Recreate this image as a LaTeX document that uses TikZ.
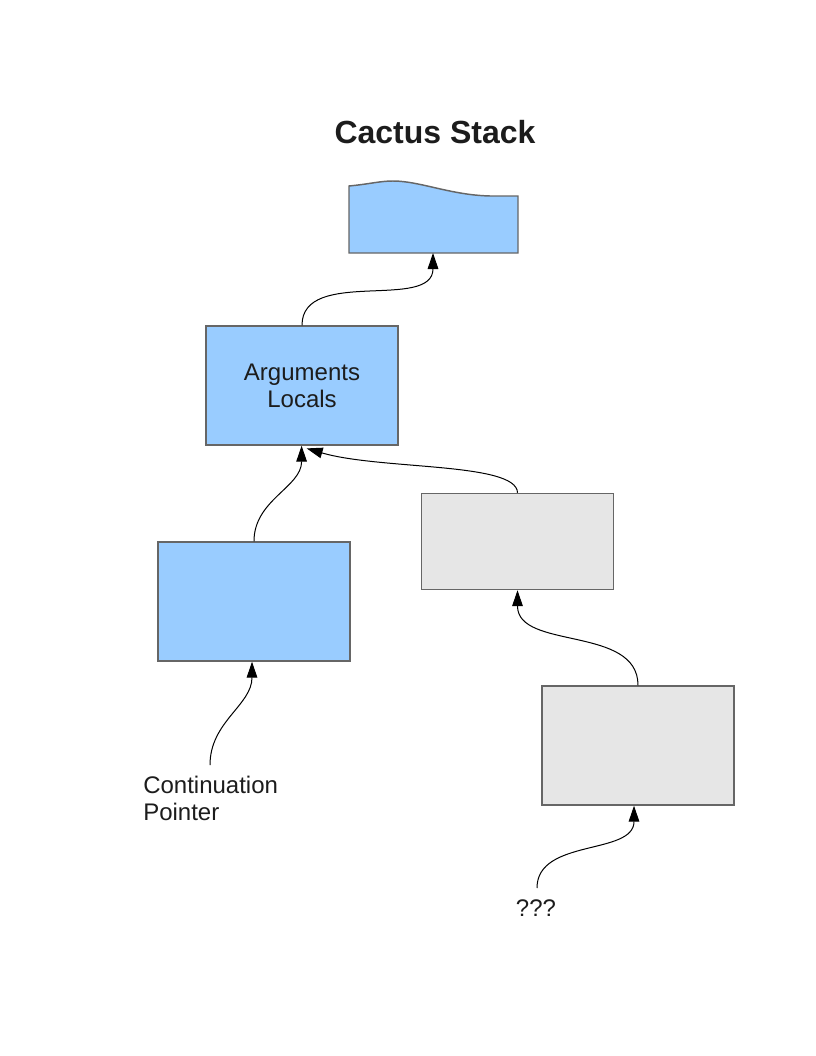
\documentclass[tikz,border=0pt]{standalone}
\usepackage{fontspec}
\setmainfont{Liberation Sans}
\usetikzlibrary{arrows.meta}

\definecolor{stackblue}{HTML}{99CCFF}
\definecolor{stackgray}{HTML}{E6E6E6}
\definecolor{boxgray}{HTML}{666666}
\definecolor{inkgray}{HTML}{1C1C1C}

\tikzset{
  frame/.style={draw=boxgray, line width=1.1pt, inner sep=0pt,
    minimum width=144pt, minimum height=89.25pt},
  bluebox/.style={frame, fill=stackblue},
  graybox/.style={frame, fill=stackgray},
  link/.style={-{Triangle[length=12pt,width=8pt]}, line width=0.75pt},
  body/.style={font=\fontsize{18}{20.25}\selectfont, text=inkgray, inner sep=0pt},
}

\begin{document}
\begin{tikzpicture}[x=0.75pt, y=-0.75pt]
        \useasboundingbox (0,0) rectangle (816,1056);
        \node [font=\bfseries\fontsize{24}{28}\selectfont, text=inkgray] (title) at (435,132) {Cactus Stack};

        % older frames, cut off at the top
        \draw[draw=boxgray, line width=1.1pt, fill=stackblue]
          (349,253) -- (349,186) .. controls (370,184) and (380,181) .. (393,181)
          .. controls (420,181) and (450,195) .. (490,196) -- (518,196) -- (518,253) -- cycle;
        \coordinate (older) at (433,253);

        \node [bluebox, body, align=center] (args) at (302,385.5) {Arguments\\Locals};
        \node [bluebox] (cont) at (254,601.5) {};
        \node [graybox, minimum height=72pt] (branch) at (517.5,541.5) {};
        \node [graybox] (stray) at (638,745.5) {};

        \node [body, align=left, anchor=west] (contlabel) at (143,798) {Continuation\\Pointer};
        \coordinate (contptr) at (210,765);
        \node [body] (unknown) at (536,908) {???};
        \coordinate (unkptr) at (537,888);

        \draw[link] (args.north) to[out=90, in=-90] (older);
        \draw[link] (cont.north) to[out=90, in=-90] ([xshift=-0.3pt]args.south);
        \draw[link] (branch.north) .. controls (517,462) and (380,470) .. ([xshift=3.5pt, yshift=-2pt]args.south);
        \draw[link] (stray.north) to[out=90, in=-90] (branch.south);
        \draw[link] (contptr) to[out=90, in=-90] ([xshift=-1.5pt]cont.south);
        \draw[link] (unkptr) to[out=90, in=-90] ([xshift=-3pt]stray.south);
    \end{tikzpicture}
\end{document}
